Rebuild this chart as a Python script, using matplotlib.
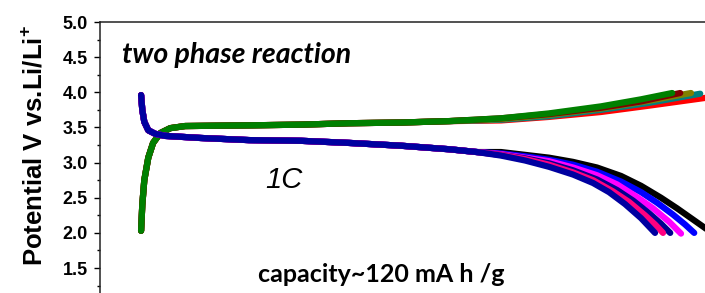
import numpy as np
import matplotlib
matplotlib.use("Agg")
import matplotlib.pyplot as plt
from matplotlib.ticker import MultipleLocator

# capacity (mAh/g) and potential (V)
# discharge curves (shared start, then each one bends down at its own capacity)
dis_x_start = [0, 0.3, 0.8, 1.8, 3.5, 6, 15, 27, 40, 52, 65, 77, 84]
dis_y_start = [3.96, 3.75, 3.58, 3.46, 3.41, 3.38, 3.35, 3.32, 3.31, 3.28, 3.24, 3.19, 3.15]
dis_navy_x = dis_x_start + [90, 96, 102, 108, 113, 117, 121, 125, 128.5]
dis_navy_y = dis_y_start + [3.10, 3.03, 2.94, 2.83, 2.71, 2.58, 2.41, 2.21, 2.0]
dis_pink_x = dis_x_start + [90, 96, 102, 108, 113, 118, 122, 126, 128.5, 130.5]
dis_pink_y = dis_y_start + [3.11, 3.05, 2.97, 2.86, 2.75, 2.59, 2.44, 2.25, 2.12, 2.0]
dis_navy2_x = dis_x_start + [90, 96, 102, 108, 114, 119, 123, 127, 130, 132.3]
dis_navy2_y = dis_y_start + [3.11, 3.06, 2.99, 2.89, 2.76, 2.61, 2.46, 2.28, 2.13, 2.0]
dis_magenta_x = dis_x_start + [90, 96, 102, 108, 114, 119, 124, 128, 132, 135]
dis_magenta_y = dis_y_start + [3.12, 3.07, 3.02, 2.93, 2.82, 2.69, 2.51, 2.35, 2.16, 1.99]
dis_blue_x = dis_x_start + [90, 96, 102, 108, 114, 120, 125, 129, 133, 136, 138.3]
dis_blue_y = dis_y_start + [3.13, 3.09, 3.04, 2.97, 2.87, 2.73, 2.58, 2.43, 2.26, 2.12, 2.0]
dis_black_x = dis_x_start + [90, 96, 102, 108, 114, 120, 125, 130, 134, 138, 141, 143]
dis_black_y = dis_y_start + [3.15, 3.11, 3.07, 3.01, 2.93, 2.81, 2.67, 2.50, 2.35, 2.19, 2.07, 1.98]

# charge curves
chg_x_start = [0, 0.3, 0.8, 1.8, 3, 4.8, 7.3, 11, 27, 40, 52, 65, 77]
chg_y_start = [2.03, 2.40, 2.75, 3.07, 3.28, 3.42, 3.49, 3.52, 3.53, 3.54, 3.56, 3.57, 3.59]
chg_red_x = chg_x_start + [90, 102, 115, 127, 141, 145]
chg_red_y = chg_y_start + [3.60, 3.65, 3.72, 3.81, 3.92, 3.95]
chg_teal_x = chg_x_start + [90, 102, 115, 127, 139.8]
chg_teal_y = chg_y_start + [3.61, 3.66, 3.75, 3.85, 3.98]
chg_olive_x = chg_x_start + [90, 102, 115, 127, 137.5]
chg_olive_y = chg_y_start + [3.62, 3.68, 3.77, 3.88, 3.99]
chg_wine_x = chg_x_start + [90, 102, 115, 125, 134.8]
chg_wine_y = chg_y_start + [3.63, 3.69, 3.78, 3.87, 3.99]
chg_green_x = chg_x_start + [90, 102, 115, 125, 132.8]
chg_green_y = chg_y_start + [3.63, 3.70, 3.80, 3.90, 3.99]

discharge = [
    (dis_black_x, dis_black_y, "#000000"),
    (dis_blue_x, dis_blue_y, "#0000FF"),
    (dis_magenta_x, dis_magenta_y, "#FF00FF"),
    (dis_navy2_x, dis_navy2_y, "#000090"),
    (dis_pink_x, dis_pink_y, "#FF0080"),
    (dis_navy_x, dis_navy_y, "#0000A0"),
]
charge = [
    (chg_red_x, chg_red_y, "#FF0000"),
    (chg_teal_x, chg_teal_y, "#008080"),
    (chg_olive_x, chg_olive_y, "#808000"),
    (chg_wine_x, chg_wine_y, "#800000"),
    (chg_green_x, chg_green_y, "#008000"),
]

plt.rcParams["font.family"] = ["Liberation Sans", "DejaVu Sans"]
plt.rcParams["font.weight"] = "bold"
plt.rcParams["mathtext.fontset"] = "custom"
plt.rcParams["mathtext.rm"] = "Liberation Sans:bold"
plt.rcParams["mathtext.bf"] = "Liberation Sans:bold"

W, H = 705, 293
fig = plt.figure(figsize=(W / 100, H / 100), dpi=100)
# axes run past the right and bottom edges (picture is cropped)
ax = fig.add_axes([99.5 / W, 1 - 303.2 / H, 681.5 / W, 281.2 / H])

for x, y, c in charge:
    ax.plot(x, y, color=c, lw=4.5, solid_capstyle="round", solid_joinstyle="round")
for x, y, c in discharge:
    ax.plot(x, y, color=c, lw=4.5, solid_capstyle="round", solid_joinstyle="round")

ax.set_xlim(-10.4, 160)
ax.set_ylim(1.0, 5.0)
ax.set_yticks(np.arange(1.5, 5.01, 0.5))
ax.yaxis.set_minor_locator(MultipleLocator(0.25))
ax.set_xticks([])
ax.tick_params(axis="y", which="major", direction="out", length=4.3, width=1.0,
               pad=4, labelsize=13)
ax.tick_params(axis="y", which="minor", direction="out", length=2.3, width=1.0)
for s in ax.spines.values():
    s.set_linewidth(1.1)
    s.set_color("#222222")

fig.text(34 / W, 1 - 146 / H, r"Potential V vs.Li/Li$^{\mathbf{+}}$", rotation=90,
         ha="center", va="center", fontsize=18.5, fontweight="bold")
fig.text(122 / W, 1 - 63 / H, "two phase reaction", fontsize=20.5, fontweight="bold",
         style="italic", family="Lato", va="baseline")
fig.text(265 / W, 1 - 188 / H, "1C", fontsize=21, style="italic", fontweight="normal",
         color="#000000", va="baseline")
fig.text(258 / W, 1 - 282 / H, "capacity~120 mA h /g", fontsize=18, fontweight="bold",
         family="Lato", va="baseline")

fig.savefig("out.png", dpi=100)
